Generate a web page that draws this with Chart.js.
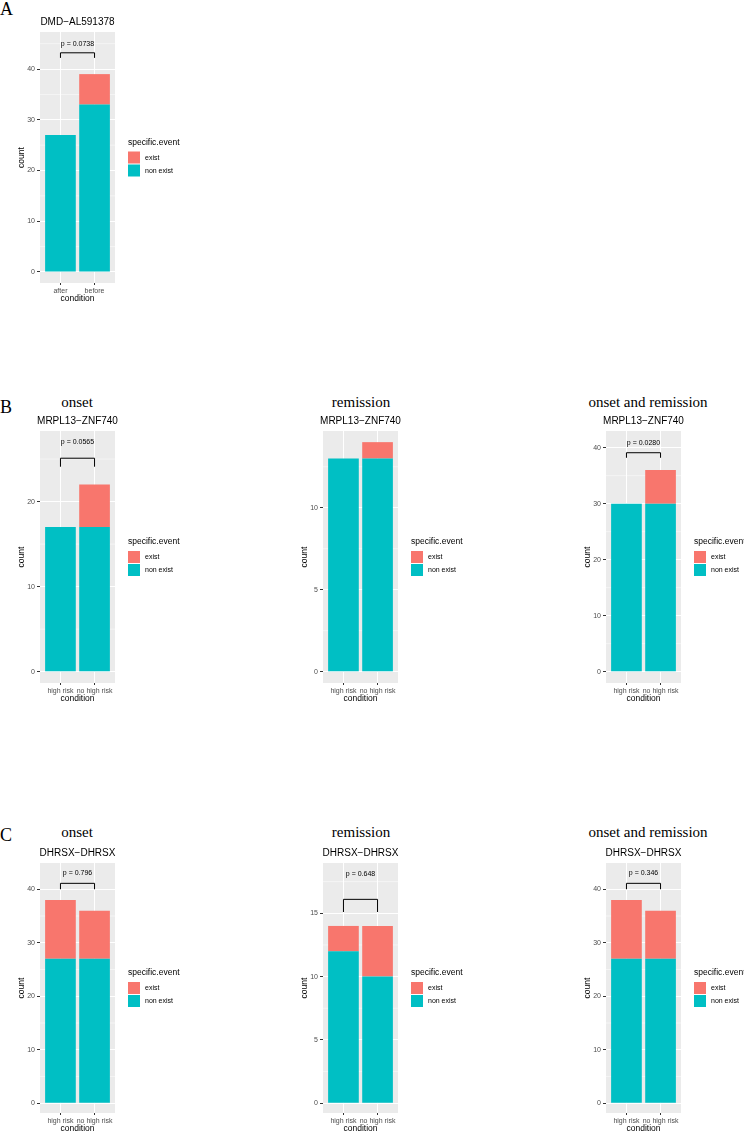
<!DOCTYPE html>
<html lang="en">
<head>
<meta charset="UTF-8">
<title>specific.event by condition</title>
<script src="https://cdn.jsdelivr.net/npm/chart.js"></script>
<style>
  body { margin: 0; background: #fff; width: 744px; height: 1133px; overflow: hidden; position: relative; }
  canvas { position: absolute; }
  .letter { position: absolute; font-family: "Liberation Serif", serif; font-size: 18px; line-height: 1; }
  .heading { position: absolute; font-family: "Liberation Serif", serif; font-size: 15px; line-height: 1; white-space: nowrap; transform: translateX(-50%); }
</style>
</head>
<body>
<script>
// panel order: A, B onset, B remission, B onset+remission, C onset, C remission, C onset+remission
const panelLetters = ['A', 'B', 'C'];
const rowHeadings = ['onset', 'remission', 'onset and remission'];
const geneTitles = ['DMD−AL591378', 'MRPL13−ZNF740', 'MRPL13−ZNF740', 'MRPL13−ZNF740', 'DHRSX−DHRSX', 'DHRSX−DHRSX', 'DHRSX−DHRSX'];
const conditions = [
    ['after', 'before'],
    ['high risk', 'no high risk'], ['high risk', 'no high risk'], ['high risk', 'no high risk'],
    ['high risk', 'no high risk'], ['high risk', 'no high risk'], ['high risk', 'no high risk']
];
const nonExist = [[27, 33], [17, 17], [13, 13], [30, 30], [27, 27], [12, 10], [27, 27]];
const exist = [[0, 6], [0, 5], [0, 1], [0, 6], [11, 9], [2, 4], [11, 9]];
const pValues = ['0.0738', '0.0565', null, '0.0280', '0.796', '0.648', '0.346'];
// bracket top, bracket leg end, label height (count units)
const brackets = [[43.2, 42.2, 44.9], [25.1, 24.1, 27.0], null, [39.1, 38.2, 40.9], [41.1, 40.0, 43.0], [16.1, 15.1, 18.1], [41.1, 40.0, 43.0]];
const yMin = [-2.17, -1.33, -0.69, -2.02, -1.81, -0.77, -1.81];
const yMax = [47.3, 28.3, 14.68, 42.98, 44.9, 18.97, 44.9];
const yStep = [10, 10, 5, 10, 10, 5, 10];
const legendTitle = 'specific.event';

const colLeft = [40, 323, 606];
const rowBox = [[32, 283], [431, 683], [863, 1113]];
const panelPos = [[0, 0], [1, 0], [1, 1], [1, 2], [2, 0], [2, 1], [2, 2]];

// panel letters and serif headings
const letterTops = [0, 398, 826];
panelLetters.forEach((t, r) => {
    const d = document.createElement('div');
    d.className = 'letter';
    d.textContent = t;
    d.style.left = '0px';
    d.style.top = letterTops[r] + 'px';
    document.body.appendChild(d);
});
const headingCenters = [77, 361, 648];
[395, 825].forEach(top => {
    rowHeadings.forEach((t, c) => {
        const d = document.createElement('div');
        d.className = 'heading';
        d.textContent = t;
        d.style.left = headingCenters[c] + 'px';
        d.style.top = top + 'px';
        document.body.appendChild(d);
    });
});

const ggPanel = {
    id: 'ggPanel',
    beforeDraw(chart, args, opts) {
        const { ctx, chartArea: a, scales: { y } } = chart;
        ctx.save();
        ctx.fillStyle = '#EBEBEB';
        ctx.fillRect(a.left, a.top, a.width, a.height);
        // minor gridlines between the breaks
        const half = opts.step / 2;
        const vals = y.ticks.map(t => t.value - half);
        vals.push(y.ticks[y.ticks.length - 1].value + half);
        ctx.strokeStyle = '#FFFFFF';
        ctx.lineWidth = 0.5;
        vals.forEach(v => {
            if (v <= y.min || v >= y.max) return;
            const py = y.getPixelForValue(v);
            ctx.beginPath();
            ctx.moveTo(a.left, py);
            ctx.lineTo(a.right, py);
            ctx.stroke();
        });
        ctx.restore();
    },
    afterDraw(chart, args, opts) {
        const { ctx, chartArea: a, scales: { x, y } } = chart;
        const cx = (a.left + a.right) / 2;
        ctx.save();
        ctx.fillStyle = '#000';
        ctx.textAlign = 'center';
        ctx.textBaseline = 'middle';
        ctx.font = '10px "Liberation Sans"';
        ctx.fillText(opts.title, cx, a.top - 9.5);

        if (opts.p) {
            const x1 = x.getPixelForValue(1), x2 = x.getPixelForValue(2);
            const yt = y.getPixelForValue(opts.bracket[0]);
            const yl = y.getPixelForValue(opts.bracket[1]);
            ctx.strokeStyle = '#000';
            ctx.lineWidth = 1;
            ctx.beginPath();
            ctx.moveTo(x1, yl);
            ctx.lineTo(x1, yt);
            ctx.lineTo(x2, yt);
            ctx.lineTo(x2, yl);
            ctx.stroke();
            ctx.font = '7px "Liberation Sans"';
            ctx.fillText('p = ' + opts.p, (x1 + x2) / 2, y.getPixelForValue(opts.bracket[2]));
        }

        // legend
        const lx = a.left + 88, cy = (a.top + a.bottom) / 2;
        ctx.textAlign = 'left';
        ctx.font = '8.5px "Liberation Sans"';
        ctx.fillText(legendTitle, lx, cy - 15);
        chart.data.datasets.slice().reverse().forEach((ds, i) => {
            const ky = cy - 6 + i * 13;
            ctx.fillStyle = ds.backgroundColor;
            ctx.fillRect(lx, ky, 12, 12);
            ctx.fillStyle = '#000';
            ctx.font = '7px "Liberation Sans"';
            ctx.fillText(ds.label, lx + 17, ky + 6.5);
        });
        ctx.restore();
    }
};

const tickFont = { family: 'Liberation Sans', size: 7 };
const titleFont = { family: 'Liberation Sans', size: 8.5 };

panelPos.forEach(([r, c], i) => {
    const L = colLeft[c];
    const [T, B] = rowBox[r];
    const canvas = document.createElement('canvas');
    const w = 200, h = (B - T) + 40 + 26;
    canvas.width = w;
    canvas.height = h;
    canvas.style.width = w + 'px';
    canvas.style.height = h + 'px';
    canvas.style.left = (L - 40) + 'px';
    canvas.style.top = (T - 40) + 'px';
    document.body.appendChild(canvas);

    const conds = conditions[i];
    new Chart(canvas, {
        type: 'bar',
        data: {
            datasets: [
                {
                    label: 'non exist',
                    data: nonExist[i].map((v, k) => ({ x: k + 1, y: v })),
                    backgroundColor: '#00BFC4',
                    borderWidth: 0,
                    barPercentage: 0.9,
                    categoryPercentage: 1
                },
                {
                    label: 'exist',
                    data: exist[i].map((v, k) => ({ x: k + 1, y: v })),
                    backgroundColor: '#F8766D',
                    borderWidth: 0,
                    barPercentage: 0.9,
                    categoryPercentage: 1
                }
            ]
        },
        options: {
            responsive: false,
            animation: false,
            devicePixelRatio: 1,
            layout: { padding: { top: 40, left: 0, right: 85, bottom: 0 } },
            plugins: {
                legend: { display: false },
                tooltip: { enabled: false },
                ggPanel: { title: geneTitles[i], p: pValues[i], bracket: brackets[i], step: yStep[i] }
            },
            scales: {
                x: {
                    type: 'linear',
                    stacked: true,
                    offset: false,
                    min: 0.4,
                    max: 2.6,
                    grid: { offset: false, color: '#FFFFFF', lineWidth: 1, tickColor: '#333333', tickLength: 2 },
                    border: { display: false },
                    ticks: {
                        stepSize: 1,
                        includeBounds: false,
                        autoSkip: false,
                        maxRotation: 0,
                        padding: 1.5,
                        color: '#4D4D4D',
                        font: tickFont,
                        callback: v => conds[v - 1] || ''
                    },
                    title: { display: true, text: 'condition', color: '#000', font: titleFont, padding: { top: 0, bottom: 5 } },
                    afterFit: s => { s.height = 26; }
                },
                y: {
                    stacked: true,
                    min: yMin[i],
                    max: yMax[i],
                    grid: { color: '#FFFFFF', lineWidth: 1, tickColor: '#333333', tickLength: 3 },
                    border: { display: false },
                    ticks: { stepSize: yStep[i], includeBounds: false, padding: 2, color: '#4D4D4D', font: tickFont },
                    title: { display: true, text: 'count', color: '#000', font: titleFont, padding: { top: 17, bottom: 0 } },
                    afterFit: s => { s.width = 40; }
                }
            }
        },
        plugins: [ggPanel]
    });
});
</script>
</body>
</html>
